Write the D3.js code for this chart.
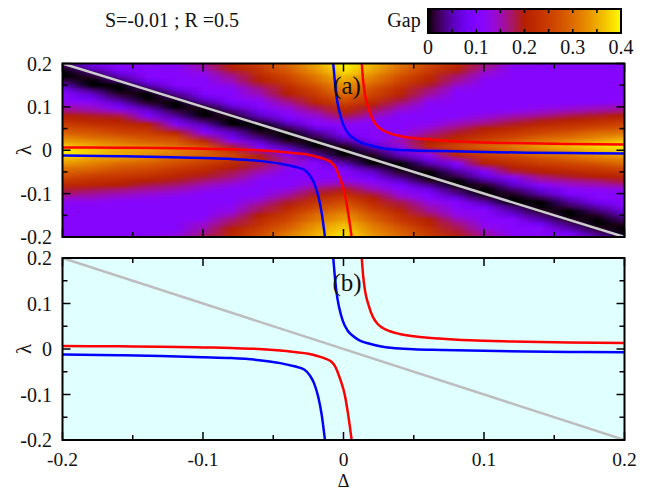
<!DOCTYPE html>
<html>
<head>
<meta charset="utf-8">
<script src="https://cdn.jsdelivr.net/npm/d3@7"></script>
<style>
  body { margin: 0; background: #fff; }
  svg { display: block; font-family: "Liberation Serif", "Times New Roman", serif; }
</style>
</head>
<body>
<svg width="651" height="491"></svg>
<script>
// grid of the gap map
const deltaGrid = [-0.2, -0.18, -0.16, -0.14, -0.12, -0.1, -0.08, -0.06, -0.04, -0.02, 0,
                   0.02, 0.04, 0.06, 0.08, 0.1, 0.12, 0.14, 0.16, 0.18, 0.2];
const lambdaGrid = [0.2, 0.19, 0.18, 0.17, 0.16, 0.15, 0.14, 0.13, 0.12, 0.11, 0.1,
                    0.09, 0.08, 0.07, 0.06, 0.05, 0.04, 0.03, 0.02, 0.01, 0,
                    -0.01, -0.02, -0.03, -0.04, -0.05, -0.06, -0.07, -0.08, -0.09, -0.1,
                    -0.11, -0.12, -0.13, -0.14, -0.15, -0.16, -0.17, -0.18, -0.19, -0.2];
// one row per lambda value, one column per delta value
const gapRows = [
  [.04,.09,.11,.11,.12,.16,.21,.26,.30,.35,.40,.36,.31,.27,.22,.17,.13,.11,.11,.11,.11],
  [.01,.06,.11,.11,.11,.15,.20,.24,.29,.34,.39,.35,.30,.25,.21,.16,.11,.11,.11,.11,.11],
  [.00,.03,.08,.11,.11,.13,.18,.23,.28,.33,.38,.34,.29,.24,.19,.14,.11,.11,.11,.11,.11],
  [.00,.01,.05,.11,.11,.12,.16,.21,.26,.31,.36,.32,.27,.22,.17,.13,.11,.11,.11,.11,.11],
  [.02,.00,.03,.08,.11,.11,.15,.20,.25,.30,.35,.31,.26,.21,.16,.11,.11,.11,.11,.11,.11],
  [.05,.00,.00,.05,.11,.11,.13,.18,.23,.28,.33,.29,.24,.19,.14,.11,.11,.11,.11,.11,.11],
  [.08,.03,.00,.02,.07,.11,.11,.16,.21,.26,.32,.27,.22,.17,.12,.11,.11,.11,.11,.11,.11],
  [.11,.06,.01,.00,.04,.10,.11,.15,.20,.25,.30,.26,.21,.16,.11,.11,.11,.11,.11,.11,.11],
  [.11,.08,.03,.00,.02,.07,.11,.13,.18,.23,.28,.24,.19,.14,.11,.11,.11,.11,.11,.11,.11],
  [.12,.12,.06,.01,.00,.04,.09,.11,.16,.21,.26,.22,.17,.12,.11,.11,.11,.11,.11,.11,.12],
  [.15,.14,.09,.04,.00,.01,.06,.11,.14,.18,.23,.19,.15,.11,.11,.11,.11,.12,.13,.14,.15],
  [.17,.16,.14,.07,.02,.00,.03,.08,.12,.16,.21,.17,.13,.11,.11,.11,.12,.14,.15,.16,.17],
  [.20,.19,.18,.10,.04,.00,.01,.06,.11,.14,.18,.15,.11,.11,.11,.13,.15,.16,.18,.19,.20],
  [.22,.21,.20,.15,.07,.02,.00,.03,.08,.12,.15,.12,.11,.11,.13,.15,.17,.19,.20,.22,.23],
  [.25,.23,.22,.20,.11,.05,.00,.00,.05,.11,.12,.11,.11,.12,.15,.17,.19,.21,.23,.24,.26],
  [.27,.26,.24,.23,.16,.08,.03,.00,.02,.07,.11,.11,.11,.14,.17,.20,.22,.24,.25,.27,.28],
  [.29,.28,.26,.25,.21,.12,.06,.01,.00,.04,.10,.11,.12,.16,.19,.22,.24,.26,.28,.30,.31],
  [.32,.30,.29,.27,.26,.17,.08,.03,.00,.02,.07,.11,.13,.18,.21,.24,.26,.29,.30,.32,.34],
  [.34,.33,.31,.29,.28,.22,.13,.06,.01,.00,.04,.09,.15,.20,.23,.26,.29,.31,.33,.35,.37],
  [.37,.35,.33,.32,.30,.27,.18,.09,.04,.00,.01,.06,.13,.22,.26,.29,.31,.34,.36,.38,.39],
  [.39,.37,.35,.34,.32,.29,.23,.14,.07,.02,.00,.03,.08,.17,.24,.27,.30,.32,.34,.36,.38],
  [.39,.37,.35,.33,.31,.29,.26,.19,.10,.04,.00,.01,.06,.12,.21,.25,.27,.30,.31,.33,.35],
  [.36,.34,.33,.31,.29,.27,.24,.20,.15,.07,.02,.00,.03,.08,.16,.23,.25,.27,.29,.31,.32],
  [.34,.32,.30,.29,.27,.25,.22,.18,.14,.11,.05,.00,.00,.05,.11,.20,.23,.25,.26,.28,.30],
  [.31,.30,.28,.27,.25,.23,.20,.17,.12,.11,.08,.03,.00,.02,.07,.15,.20,.22,.24,.25,.27],
  [.29,.28,.26,.25,.23,.21,.18,.15,.11,.11,.11,.06,.01,.00,.04,.10,.18,.20,.21,.23,.24],
  [.27,.25,.24,.23,.21,.19,.17,.13,.11,.11,.11,.08,.03,.00,.02,.07,.13,.17,.19,.20,.21],
  [.24,.23,.22,.20,.19,.17,.15,.11,.11,.12,.13,.11,.06,.01,.00,.04,.08,.15,.16,.17,.19],
  [.22,.21,.20,.18,.17,.15,.13,.11,.11,.14,.16,.13,.09,.04,.00,.01,.06,.11,.14,.15,.16],
  [.19,.18,.17,.16,.15,.13,.11,.11,.13,.17,.19,.15,.11,.07,.02,.00,.03,.07,.11,.12,.13],
  [.17,.16,.15,.14,.13,.11,.11,.11,.15,.19,.22,.18,.13,.10,.04,.00,.01,.05,.10,.11,.11],
  [.14,.14,.13,.12,.11,.11,.11,.13,.17,.22,.25,.20,.15,.11,.07,.02,.00,.02,.06,.11,.11],
  [.12,.12,.11,.11,.11,.11,.11,.15,.19,.24,.27,.22,.18,.13,.11,.05,.00,.00,.04,.08,.11],
  [.11,.11,.11,.11,.11,.11,.12,.17,.21,.26,.29,.24,.19,.15,.11,.08,.03,.00,.02,.05,.11],
  [.11,.11,.11,.11,.11,.11,.13,.18,.23,.28,.31,.26,.21,.16,.12,.11,.05,.01,.00,.03,.07],
  [.11,.11,.11,.11,.11,.11,.15,.20,.25,.30,.33,.28,.23,.18,.13,.11,.07,.03,.00,.01,.05],
  [.11,.11,.11,.11,.11,.12,.17,.22,.26,.31,.34,.29,.24,.20,.15,.11,.11,.05,.01,.00,.03],
  [.11,.11,.11,.11,.11,.14,.18,.23,.28,.33,.36,.31,.26,.21,.17,.12,.11,.08,.03,.00,.01],
  [.11,.11,.11,.11,.11,.15,.20,.25,.29,.34,.37,.32,.28,.23,.18,.13,.11,.11,.05,.01,.00],
  [.11,.11,.11,.11,.12,.16,.21,.26,.31,.35,.38,.33,.29,.24,.19,.15,.11,.11,.08,.03,.00],
  [.11,.11,.11,.11,.13,.18,.22,.27,.32,.36,.39,.34,.30,.25,.21,.16,.11,.11,.11,.05,.02]
];

// curves, [delta, lambda]
const blueUpper = [[-0.0073, 0.2], [-0.0062, 0.16], [-0.005, 0.125], [-0.003, 0.09], [-0.0005, 0.062],
  [0.003, 0.04], [0.007, 0.028], [0.012, 0.018], [0.018, 0.012], [0.026, 0.006], [0.035, 0.002],
  [0.05, -0.0005], [0.07, -0.002], [0.1, -0.004], [0.13, -0.0055], [0.16, -0.0065], [0.2, -0.0073]];
const blueLower = [[-0.2, -0.0123], [-0.16, -0.0138], [-0.13, -0.0154], [-0.1, -0.018], [-0.08, -0.02],
  [-0.06, -0.0245], [-0.045, -0.031], [-0.035, -0.038], [-0.028, -0.045], [-0.024, -0.058],
  [-0.021, -0.075], [-0.018, -0.105], [-0.0155, -0.145], [-0.0132, -0.2]];
const redUpper = [[0.013, 0.2], [0.014, 0.16], [0.0155, 0.125], [0.018, 0.095], [0.021, 0.07],
  [0.024, 0.056], [0.028, 0.046], [0.033, 0.039], [0.04, 0.033], [0.05, 0.028], [0.068, 0.023],
  [0.09, 0.019], [0.12, 0.0165], [0.16, 0.0145], [0.2, 0.0132]];
const redLower = [[-0.2, 0.0066], [-0.16, 0.0058], [-0.13, 0.0052], [-0.1, 0.0035], [-0.08, 0.0022],
  [-0.06, 0], [-0.045, -0.0035], [-0.035, -0.0068], [-0.025, -0.0105], [-0.018, -0.016],
  [-0.013, -0.021], [-0.009, -0.027], [-0.006, -0.038], [-0.0025, -0.065], [0.001, -0.102],
  [0.0034, -0.146], [0.0058, -0.2]];
const grayLine = [[-0.2, 0.2], [0.2, -0.2]];

const axisTicks = [-0.2, -0.1, 0, 0.1, 0.2];
const minorTicks = [-0.15, -0.05, 0.05, 0.15];
const barTicks = [0, 0.1, 0.2, 0.3, 0.4];
const barMinor = [0.05, 0.15, 0.25, 0.35];
const fmt = d => d === 0 ? "0" : String(d);

const svg = d3.select("svg");

// gnuplot style palette 7,5,15
const gapColour = d3.scaleSequential(t => d3.rgb(
    255 * Math.sqrt(t), 255 * t * t * t, 255 * Math.max(0, Math.sin(2 * Math.PI * t))) + "")
  .domain([0, 0.4]).clamp(true);

const x = d3.scaleLinear().domain([-0.2, 0.2]).range([62.5, 624.5]);
const panels = [
  { id: "a", y: d3.scaleLinear().domain([-0.2, 0.2]).range([237, 63.5]), map: true,  tag: "(a)", tagY: 94 },
  { id: "b", y: d3.scaleLinear().domain([-0.2, 0.2]).range([440, 258]),  map: false, tag: "(b)", tagY: 291 }
];

// the gap map as a small image, smoothed when stretched
const cnv = document.createElement("canvas");
cnv.width = deltaGrid.length;
cnv.height = lambdaGrid.length;
const ctx = cnv.getContext("2d");
const img = ctx.createImageData(cnv.width, cnv.height);
gapRows.forEach((row, j) => row.forEach((v, i) => {
  const c = d3.rgb(gapColour(v));
  const k = 4 * (j * cnv.width + i);
  img.data[k] = c.r; img.data[k + 1] = c.g; img.data[k + 2] = c.b; img.data[k + 3] = 255;
}));
ctx.putImageData(img, 0, 0);
const mapUrl = cnv.toDataURL();
const halfD = (deltaGrid[1] - deltaGrid[0]) / 2;
const halfL = (lambdaGrid[0] - lambdaGrid[1]) / 2;

const line = d3.line().x(d => x(d[0]));

panels.forEach(p => {
  const y = p.y;
  const x0 = x.range()[0], x1 = x.range()[1];
  const yTop = y(0.2), yBot = y(-0.2);
  const g = svg.append("g");

  g.append("clipPath").attr("id", "clip-" + p.id)
    .append("rect").attr("x", x0).attr("y", yTop).attr("width", x1 - x0).attr("height", yBot - yTop);
  const inner = g.append("g").attr("clip-path", `url(#clip-${p.id})`);

  if (p.map) {
    inner.append("image")
      .attr("href", mapUrl)
      .attr("x", x(d3.min(deltaGrid) - halfD))
      .attr("y", y(d3.max(lambdaGrid) + halfL))
      .attr("width", x(d3.max(deltaGrid) + halfD) - x(d3.min(deltaGrid) - halfD))
      .attr("height", y(d3.min(lambdaGrid) - halfL) - y(d3.max(lambdaGrid) + halfL))
      .attr("preserveAspectRatio", "none");
  } else {
    inner.append("rect").attr("x", x0).attr("y", yTop).attr("width", x1 - x0).attr("height", yBot - yTop)
      .attr("fill", "#e0ffff");
  }

  const ln = line.y(d => y(d[1])).curve(d3.curveMonotoneX);
  inner.append("path").datum(grayLine).attr("d", ln)
    .attr("fill", "none").attr("stroke", p.map ? "#cccccc" : "#bdbdbd").attr("stroke-width", 2.5);
  [[blueLower, "#0000ff"], [blueUpper, "#0000ff"], [redLower, "#ff0000"], [redUpper, "#ff0000"]]
    .forEach(([pts, col]) => {
      inner.append("path").datum(pts).attr("d", ln)
        .attr("fill", "none").attr("stroke", col).attr("stroke-width", 2.5);
    });

  g.append("text").attr("x", 347).attr("y", p.tagY).attr("text-anchor", "middle")
    .attr("font-size", 25).attr("fill", "#111").text(p.tag);

  // ticks on all four sides, pointing inward
  const tk = g.append("g").attr("stroke", "#000").attr("stroke-width", 1.5);
  const allTicks = axisTicks.map(v => [v, 8]).concat(minorTicks.map(v => [v, 5]));
  allTicks.forEach(([v, len]) => {
    tk.append("line").attr("x1", x(v)).attr("x2", x(v)).attr("y1", yBot).attr("y2", yBot - len);
    tk.append("line").attr("x1", x(v)).attr("x2", x(v)).attr("y1", yTop).attr("y2", yTop + len);
    tk.append("line").attr("x1", x0).attr("x2", x0 + len).attr("y1", y(v)).attr("y2", y(v));
    tk.append("line").attr("x1", x1).attr("x2", x1 - len).attr("y1", y(v)).attr("y2", y(v));
  });

  g.append("rect").attr("x", x0).attr("y", yTop).attr("width", x1 - x0).attr("height", yBot - yTop)
    .attr("fill", "none").attr("stroke", "#000").attr("stroke-width", 2);

  g.selectAll(".ylab").data(axisTicks).enter().append("text")
    .attr("x", 52).attr("y", d => y(d) + 7).attr("text-anchor", "end")
    .attr("font-size", 20).attr("fill", "#111").text(fmt);

  g.append("text").attr("transform", `translate(24,${(yTop + yBot) / 2}) rotate(-90)`)
    .attr("text-anchor", "middle").attr("dominant-baseline", "central")
    .attr("font-size", 21).attr("fill", "#111").text("λ");

  if (!p.map) {
    g.selectAll(".xlab").data(axisTicks).enter().append("text")
      .attr("x", d => x(d)).attr("y", 466).attr("text-anchor", "middle")
      .attr("font-size", 19.5).attr("fill", "#111").text(fmt);
    g.append("text").attr("x", x(0)).attr("y", 487).attr("text-anchor", "middle")
      .attr("font-size", 18).attr("fill", "#111").text("Δ");
  }
});

// header text and colour bar
svg.append("text").attr("x", 172).attr("y", 27).attr("text-anchor", "middle")
  .attr("font-size", 20).attr("fill", "#111").text("S=-0.01 ; R =0.5");
svg.append("text").attr("x", 404).attr("y", 27).attr("text-anchor", "middle")
  .attr("font-size", 20).attr("fill", "#111").text("Gap");

const bx = d3.scaleLinear().domain([0, 0.4]).range([428, 621]);
const barY0 = 9, barY1 = 33;
const grad = svg.append("defs").append("linearGradient").attr("id", "gapbar");
d3.range(0, 41).forEach(i => {
  grad.append("stop").attr("offset", i / 40).attr("stop-color", gapColour(i / 100));
});
svg.append("rect").attr("x", bx(0)).attr("y", barY0).attr("width", bx(0.4) - bx(0))
  .attr("height", barY1 - barY0).attr("fill", "url(#gapbar)");
const bt = svg.append("g").attr("stroke", "#000").attr("stroke-width", 1.5);
barTicks.concat(barMinor).forEach(v => {
  bt.append("line").attr("x1", bx(v)).attr("x2", bx(v)).attr("y1", barY0).attr("y2", barY0 + 4);
  bt.append("line").attr("x1", bx(v)).attr("x2", bx(v)).attr("y1", barY1).attr("y2", barY1 - 4);
});
svg.append("rect").attr("x", bx(0)).attr("y", barY0).attr("width", bx(0.4) - bx(0))
  .attr("height", barY1 - barY0).attr("fill", "none").attr("stroke", "#000").attr("stroke-width", 2);
svg.selectAll(".blab").data(barTicks).enter().append("text")
  .attr("x", d => bx(d)).attr("y", 54).attr("text-anchor", "middle")
  .attr("font-size", 20).attr("fill", "#111").text(fmt);
</script>
</body>
</html>
